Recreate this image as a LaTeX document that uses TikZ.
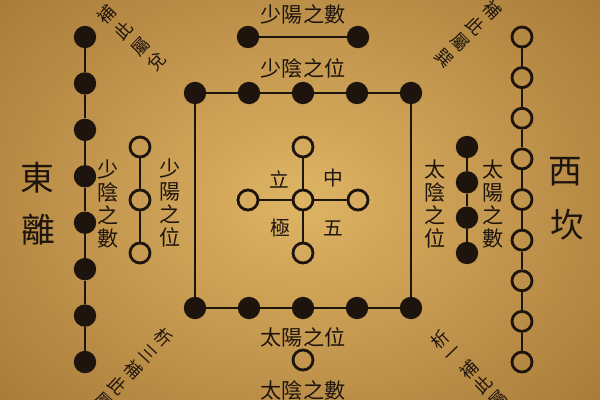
\documentclass[tikz,border=0pt]{standalone}
\usepackage{fontspec}
\newfontfamily\cjk{Noto Sans CJK TC}
\usetikzlibrary{calc}
\definecolor{paper}{RGB}{222,180,100}
\definecolor{paperedge}{RGB}{168,122,56}
\definecolor{ink}{RGB}{30,20,14}

\begin{document}
\begin{tikzpicture}[x=0.025cm,y=-0.025cm,
  yang/.style={circle,fill=ink,minimum size=0.56cm,inner sep=0pt},
  yin/.style={circle,draw=ink,line width=2pt,minimum size=0.5cm,inner sep=0pt},
  link/.style={draw=ink,line width=1.1pt},
  lab/.style={text=ink,font=\cjk\fontsize{15}{16.5}\selectfont,inner sep=0pt,align=center},
  big/.style={text=ink,font=\cjk\fontsize{24}{26}\selectfont,inner sep=0pt},
  mid/.style={text=ink,font=\cjk\fontsize{14}{15}\selectfont,inner sep=0pt},
  diag/.style={text=ink,font=\cjk\fontsize{12.5}{13}\selectfont,inner sep=0pt}]
  \useasboundingbox (0,0) rectangle (600,400);
  % paper
  \begin{scope}
    \clip (0,0) rectangle (600,400);
    \shade[inner color=paper,outer color=paperedge] (-110,-110) rectangle (710,510);
  \end{scope}

  % east column, eight yang
  \foreach \i in {1,...,8}
    \node[yang] (e\i) at (85,{37+(\i-1)*46.43}) {};
  \foreach \i [evaluate=\i as \j using int(\i+1)] in {1,...,7}
    \draw[link] (e\i) -- (e\j);

  % west column, nine yin
  \foreach \i in {1,...,9}
    \node[yin] (w\i) at (522,{37+(\i-1)*40.63}) {};
  \foreach \i [evaluate=\i as \j using int(\i+1)] in {1,...,8}
    \draw[link] (w\i) -- (w\j);

  % inner columns
  \foreach \i in {1,...,3}
    \node[yin] (sy\i) at (140,{147+(\i-1)*53}) {};
  \draw[link] (sy1) -- (sy2);
  \draw[link] (sy2) -- (sy3);
  \foreach \i in {1,...,4}
    \node[yang] (ty\i) at (467,{147+(\i-1)*35.33}) {};
  \foreach \i [evaluate=\i as \j using int(\i+1)] in {1,...,3}
    \draw[link] (ty\i) -- (ty\j);

  % north pair
  \node[yang] (na) at (248,37) {};
  \node[yang] (nb) at (358,37) {};
  \draw[link] (na) -- (nb);

  % square of ten
  \foreach \x [count=\i] in {195,249,303,357,411} {
    \node[yang] (t\i) at (\x,93) {};
    \node[yang] (b\i) at (\x,308) {};
  }
  \foreach \i [evaluate=\i as \j using int(\i+1)] in {1,...,4} {
    \draw[link] (t\i) -- (t\j);
    \draw[link] (b\i) -- (b\j);
  }
  \draw[link] (t1) -- (b1);
  \draw[link] (t5) -- (b5);

  % south single
  \node[yin] (sx) at (303,360) {};

  % centre five
  \node[yin] (c) at (303,200) {};
  \node[yin] (cn) at (303,147) {};
  \node[yin] (cs) at (303,253) {};
  \node[yin] (cw) at (248,200) {};
  \node[yin] (ce) at (358,200) {};
  \foreach \d in {cn,cs,cw,ce}
    \draw[link] (c) -- (\d);
  \node[mid] (li) at (279,180) {立};
  \node[mid] (zh) at (333,178) {中};
  \node[mid] (ji) at (280,228) {極};
  \node[mid] (wu) at (333,228) {五};

  % labels
  \node[lab] (syshu) at (303,14) {少陽之數};
  \node[lab] (syinwei) at (303,68) {少陰之位};
  \node[lab] (tywei) at (303,337) {太陽之位};
  \node[lab] (tyinshu) at (303,390) {太陰之數};
  \node[lab] (syinshu) at (108,204) {少\\陰\\之\\數};
  \node[lab] (sywei) at (170,203) {少\\陽\\之\\位};
  \node[lab] (tyinwei) at (435,204) {太\\陰\\之\\位};
  \node[lab] (tyshu) at (493,204) {太\\陽\\之\\數};
  \node[big] (dong) at (37,178) {東};
  \node[big] (li2) at (38,230) {離};
  \node[big] (xi) at (565,172) {西};
  \node[big] (kan) at (567,225) {坎};

  % corner notes
  \foreach \ch [count=\k from 0] in {補,此,屬,兌}
    \node[diag,rotate=47] (nw\k) at ({107+\k*16.7},{15+\k*15.7}) {\ch};
  \foreach \ch [count=\k from 0] in {補,此,屬,巽}
    \node[diag,rotate=-45] (ne\k) at ({492-\k*16},{10+\k*16}) {\ch};
  \foreach \ch [count=\k from 0] in {析,三,補,此,屬}
    \node[diag,rotate=-43] (sw\k) at ({163-\k*15},{338+\k*16}) {\ch};
  \foreach \ch [count=\k from 0] in {析,一,補,此,屬}
    \node[diag,rotate=44] (se\k) at ({440+\k*14.5},{340+\k*15}) {\ch};
\end{tikzpicture}
\end{document}
